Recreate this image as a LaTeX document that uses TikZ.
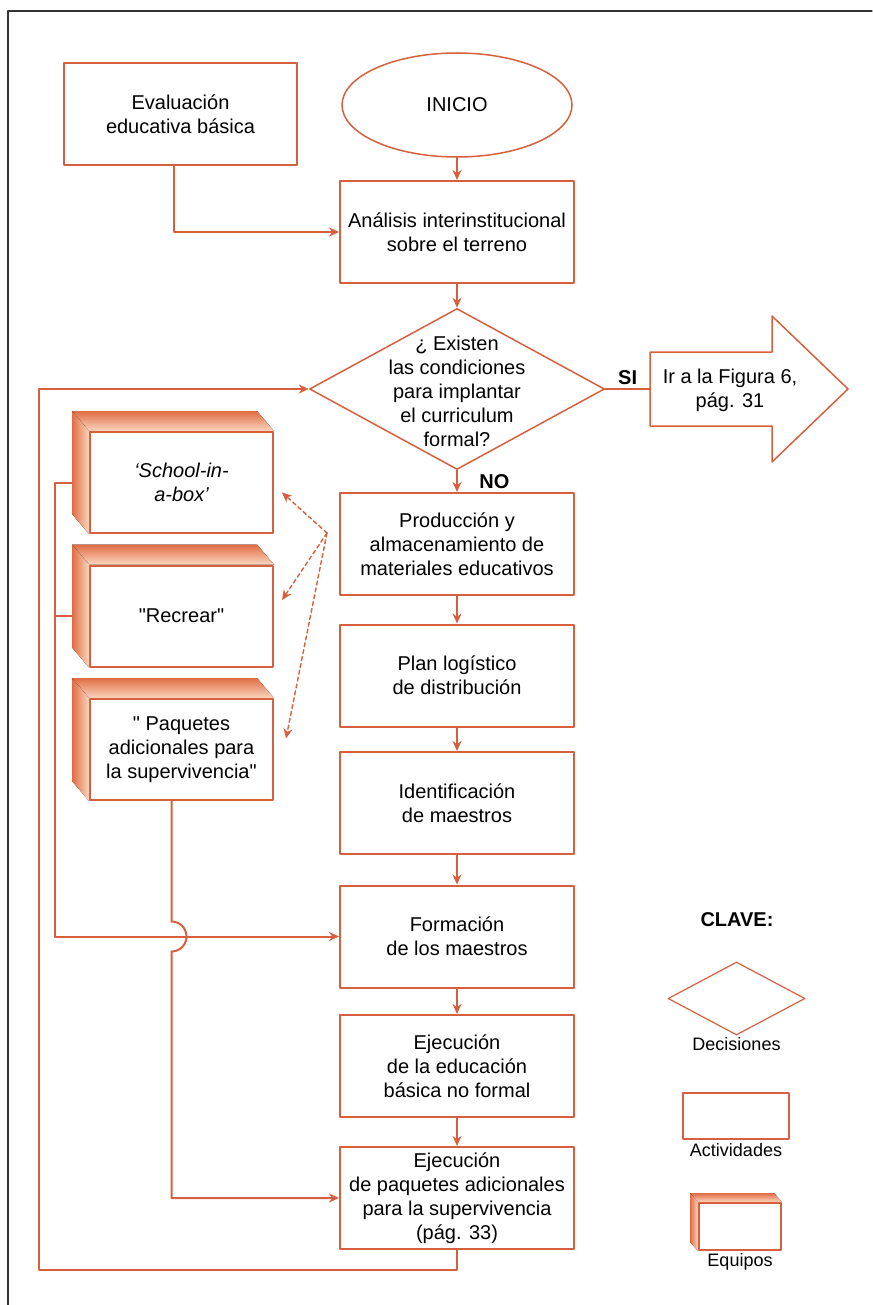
\documentclass[tikz,border=0pt]{standalone}
\usepackage{fontspec}
\setmainfont{Liberation Sans}
\usetikzlibrary{shapes.geometric,arrows.meta,backgrounds,calc,positioning}
\definecolor{linea}{RGB}{214,96,62}
\definecolor{sombraosc}{RGB}{224,108,68}
\definecolor{sombracla}{RGB}{250,214,190}
\newcommand{\letra}{\fontsize{20}{24}\selectfont}
\newcommand{\letrachica}{\fontsize{18}{22}\selectfont}
\tikzset{
	actividad/.style={draw=linea, line width=2pt, fill=white, minimum width=234pt, minimum height=102pt, align=center, inner sep=2pt},
	equipo/.style={draw=linea, line width=2pt, fill=white, minimum width=183pt, minimum height=101pt, align=center, inner sep=2pt},
	inicio/.style={ellipse, draw=linea, line width=1.5pt, minimum width=230pt, minimum height=104pt},
	decision/.style={diamond, draw=linea, line width=1.5pt, minimum width=295pt, minimum height=161pt, inner sep=0pt},
	conector/.style={draw=linea, line width=2pt, ->},
	reparto/.style={draw=linea, line width=1.4pt, ->, dash pattern=on 4pt off 3pt},
	leyenda/.style={font=\letrachica, inner sep=1pt},
	marco/.style={draw=black!80, line width=1.2pt}
}
% sombra de los equipos: nodo, dx, dy
\newcommand{\sombra}[3]{%
	\fill[top color=sombraosc, bottom color=sombracla] (#1.north west) -- ++(-#2,-#3) -- ($(#1.north east)+(-#2,-#3)$) -- (#1.north east) -- cycle;
	\fill[left color=sombraosc, right color=sombracla] (#1.north west) -- ++(-#2,-#3) -- ($(#1.south west)+(-#2,-#3)$) -- (#1.south west) -- cycle;}
\begin{document}
\begin{tikzpicture}[x=1pt,y=-1pt,>={Stealth[length=10pt,width=9pt]}, font=\letra, line join=round, line cap=round]
	\def\xc{457} % columna central
	\useasboundingbox (0,0) rectangle (872,1305);
	\draw[marco] (8,1305) |- (872,11);
	% columna central
	\node[actividad, minimum width=233pt] (eval) at (180.5,114) {Evaluación\\educativa básica};
	\node[inicio] (inicio) at (\xc,105) {INICIO};
	\node[actividad] (analisis) at (\xc,232) {Análisis interinstitucional\\sobre el terreno};
	\node[decision] (dec) at (\xc,389) {};
	\node[align=center] (dectexto) at (\xc,391) {¿ Existen\\las condiciones\\para implantar\\el curriculum\\formal?};
	\node[actividad] (prod) at (\xc,544) {Producción y\\almacenamiento de\\materiales educativos};
	\node[actividad] (plan) at (\xc,675.5) {Plan logístico\\de distribución};
	\node[actividad] (ident) at (\xc,803) {Identificación\\de maestros};
	\node[actividad] (form) at (\xc,936.5) {Formación\\de los maestros};
	\node[actividad] (ejec) at (\xc,1066) {Ejecución\\de la educación\\básica no formal};
	\node[actividad] (ejpaq) at (\xc,1198) {Ejecución\\de paquetes adicionales\\para la supervivencia\\(pág. 33)};
	% flecha de salida
	\draw[draw=linea, line width=1.5pt, fill=white] (650,352) -- (772,352) -- (772,316) -- (848,389) -- (772,462) -- (772,426) -- (650,426) -- cycle;
	\node[align=center] (irfig) at (730,390) {Ir a la Figura 6,\\pág. 31};
	\coordinate (colaflecha) at (650,389);
	% equipos
	\node[equipo, font=\letra\itshape] (school) at (181.5,482.5) {‘School-in-\\a-box’};
	\node[equipo] (recrear) at (181.5,616) {\textquotedbl Recrear\textquotedbl};
	\node[equipo] (paquetes) at (181.5,749.5) {\textquotedbl\ Paquetes\\adicionales para\\la supervivencia\textquotedbl};
	\begin{scope}[on background layer]
		\sombra{school}{17}{20}
		\sombra{recrear}{17}{20}
		\sombra{paquetes}{17}{20}
	\end{scope}
	% conectores
	\draw[conector] (inicio.south) -- (analisis.north);
	\draw[conector] ([xshift=-7pt]eval.south) |- (analisis.west);
	\draw[conector] (analisis.south) -- (dec.north);
	\draw[conector, -] (dec.east) -- node[above, font=\letra\bfseries]{SI} (colaflecha);
	\draw[conector] (dec.south) -- node[right=18pt, font=\letra\bfseries]{NO} (prod.north);
	\foreach \a/\b in {prod/plan, plan/ident, ident/form, form/ejec, ejec/ejpaq}
		\draw[conector] (\a.south) -- (\b.north);
	\coordinate (retorno) at (39,1270);
	\draw[conector] (ejpaq.south) |- (retorno) |- (dec.west);
	\draw[conector] ([xshift=-17pt]school.west) -- ++(-17,0) |- (form.west);
	\draw[conector, -] ([xshift=-17pt]recrear.west) -- ++(-17,0);
	\draw[conector] ([xshift=-10pt]paquetes.south) -- (171.5,921.5) arc[start angle=-90, end angle=90, radius=15] |- (ejpaq.west);
	\coordinate (hub) at (327,533);
	\foreach \dest/\dx/\dy in {school/8/-10, recrear/8/16, paquetes/12/11}
		\draw[reparto] (hub) -- ([xshift=\dx pt, yshift=\dy pt]\dest.east);
	% clave
	\node[font=\letra\bfseries] (clave) at (737,920) {CLAVE:};
	\node[decision, minimum width=137pt, minimum height=73pt, line width=1.2pt] (legdec) at (736.5,998.5) {};
	\node[leyenda, below=1pt of legdec] (txtdec) {Decisiones};
	\node[actividad, minimum width=106pt, minimum height=46pt] (legact) at (736,1116) {};
	\node[leyenda, below=2pt of legact] (txtact) {Actividades};
	\node[equipo, minimum width=82pt, minimum height=47pt] (legequ) at (740,1226.5) {};
	\begin{scope}[on background layer]
		\sombra{legequ}{8}{9}
	\end{scope}
	\node[leyenda, below=1pt of legequ] (txtequ) {Equipos};
\end{tikzpicture}
\end{document}
